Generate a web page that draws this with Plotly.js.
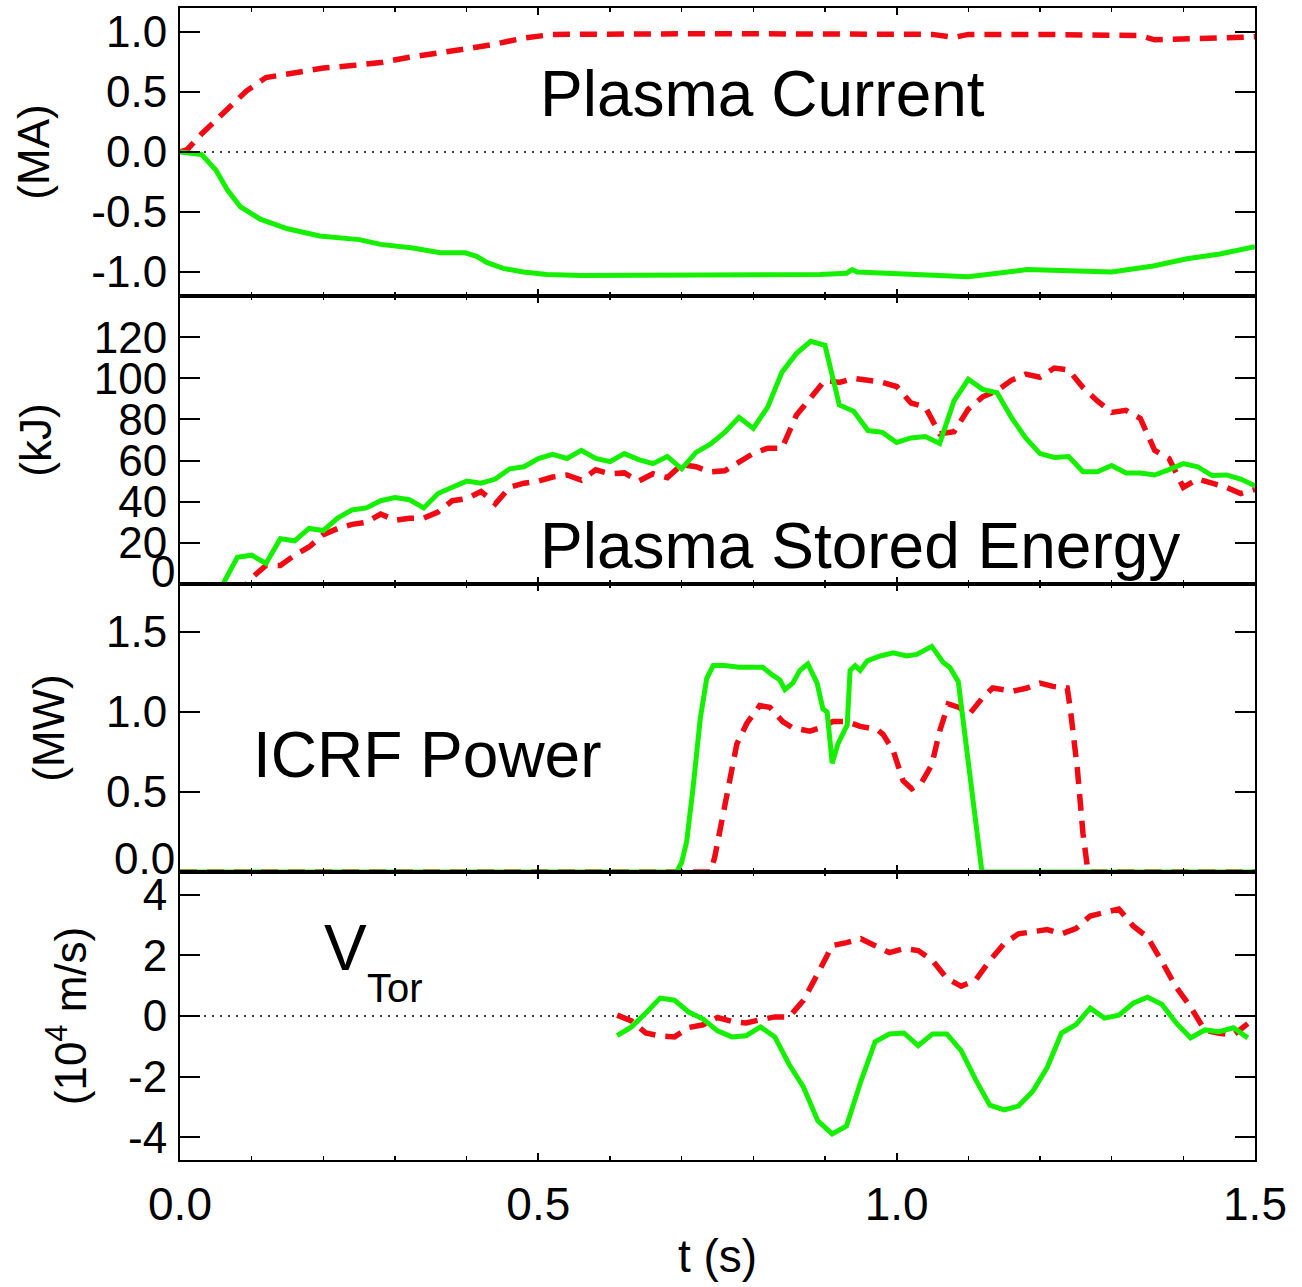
<!DOCTYPE html>
<html>
<head>
<meta charset="utf-8">
<script src="https://cdn.plot.ly/plotly-3.0.1.min.js"></script>
<style>
  html, body { margin: 0; padding: 0; background: #ffffff; }
  #chart { width: 1302px; height: 1287px; }
</style>
</head>
<body>
<div id="chart"></div>
<script>
// ---- Plasma current (MA) ----
const ipRedT = [0,0.01,0.03,0.066,0.093,0.12,0.16,0.20,0.24,0.28,
                0.32,0.36,0.40,0.44,0.48,0.52,0.60,0.70,0.80,0.90,
                1.00,1.05,1.08,1.10,1.20,1.30,1.34,1.36,1.38,1.42,
                1.46,1.50];
const ipRed  = [0,0.02,0.15,0.35,0.51,0.62,0.66,0.70,0.72,0.745,
                0.79,0.82,0.86,0.90,0.95,0.98,0.985,0.985,0.985,0.985,
                0.98,0.98,0.955,0.98,0.98,0.98,0.97,0.935,0.94,0.95,
                0.96,0.96];
const ipGreenT = [0,0.01,0.02,0.03,0.05,0.066,0.084,0.112,0.15,0.195,
                  0.25,0.28,0.325,0.363,0.398,0.414,0.428,0.451,0.479,0.512,
                  0.56,0.70,0.80,0.893,0.93,0.938,0.945,1.033,1.10,1.182,
                  1.30,1.358,1.405,1.451,1.50];
const ipGreen  = [0,-0.01,-0.02,-0.02,-0.15,-0.315,-0.455,-0.56,-0.64,-0.70,
                  -0.73,-0.77,-0.80,-0.84,-0.84,-0.87,-0.92,-0.97,-1.0,-1.02,
                  -1.03,-1.03,-1.03,-1.02,-1.01,-0.98,-1.0,-1.02,-1.04,-0.98,
                  -1.0,-0.95,-0.89,-0.85,-0.79];

// ---- Plasma stored energy (kJ) ----
const wGreenT = [0.06,0.08,0.10,0.12,0.14,0.16,0.18,0.20,0.22,0.24,
                 0.26,0.28,0.30,0.32,0.34,0.36,0.38,0.40,0.42,0.44,
                 0.46,0.48,0.50,0.52,0.54,0.56,0.58,0.60,0.62,0.64,
                 0.66,0.68,0.70,0.72,0.74,0.76,0.78,0.80,0.82,0.84,
                 0.86,0.88,0.90,0.92,0.94,0.96,0.98,1.00,1.02,1.04,
                 1.06,1.08,1.10,1.12,1.14,1.16,1.18,1.20,1.22,1.24,
                 1.26,1.28,1.30,1.32,1.34,1.36,1.38,1.40,1.42,1.44,
                 1.46,1.48,1.50];
const wGreen  = [0,13,14,10,22,21,27,26,32,36,
                 37,40.5,42,41,37,44,47,50,49,51,
                 56,57,61,63,61,65,61,59.5,63.4,60.5,
                 58.5,62,56,64,68,73.7,81,75.6,86,103,
                 112,118,116,87,84,74.6,73.7,68.8,71,71.7,
                 68.3,89,99.5,94.6,93,81,71,63.4,61.5,62,
                 54.6,54.6,57.6,54,54,53,55.6,58.5,57,52.7,
                 53,51,47.8];
const wRedT = [0.08,0.10,0.12,0.14,0.16,0.18,0.20,0.22,0.24,0.26,
               0.28,0.30,0.32,0.34,0.36,0.38,0.40,0.42,0.44,0.46,
               0.48,0.50,0.52,0.54,0.56,0.58,0.60,0.62,0.64,0.66,
               0.68,0.70,0.72,0.74,0.76,0.78,0.80,0.82,0.84,0.86,
               0.88,0.90,0.92,0.94,0.96,0.98,1.00,1.02,1.04,1.06,
               1.08,1.10,1.12,1.14,1.16,1.18,1.20,1.22,1.24,1.26,
               1.28,1.30,1.32,1.34,1.36,1.38,1.40,1.42,1.44,1.46,
               1.48,1.50];
const wRed  = [-6,3,9,9,14,18,24,27,29,30,
               34,31,32,32,35,40.5,41.5,45,39,47,
               49,50,52,53,50.5,55.5,53.6,54,50,53.6,
               51.7,58,57,54.5,55,59,63.5,66,66,82,
               90,99,98,100,99,98,96,88,86,73,
               74,85,91,94,99,102,100.5,105,104,95.5,
               89,83.4,84.4,80.5,65,61,47,51,49,47,
               44,46];

// ---- ICRF power (MW) ----
const pGreenT = [0,0.693,0.700,0.707,0.716,0.726,0.735,0.744,0.76,0.78,
                 0.80,0.813,0.827,0.837,0.844,0.855,0.865,0.876,0.889,0.897,
                 0.903,0.910,0.918,0.931,0.935,0.942,0.949,0.959,0.977,0.995,
                 1.014,1.028,1.049,1.065,1.074,1.086,1.119,1.50];
const pGreen  = [0,0,0.06,0.19,0.53,0.96,1.21,1.29,1.29,1.28,
                 1.28,1.28,1.23,1.2,1.14,1.18,1.26,1.3,1.18,1.02,
                 1.0,0.68,0.8,0.92,1.26,1.29,1.26,1.32,1.35,1.37,
                 1.35,1.36,1.41,1.31,1.28,1.19,0,0];
const pRedT = [0,0.74,0.746,0.76,0.77,0.777,0.791,0.809,0.823,0.841,
               0.855,0.879,0.893,0.911,0.931,0.949,0.973,0.981,0.995,1.009,
               1.021,1.035,1.049,1.06,1.072,1.086,1.102,1.12,1.134,1.162,
               1.182,1.2,1.218,1.238,1.242,1.252,1.26,1.267,1.5];
const pRed  = [0,0,0.09,0.42,0.65,0.8,0.93,1.04,1.03,0.94,
               0.9,0.88,0.9,0.94,0.94,0.91,0.89,0.86,0.76,0.57,
               0.52,0.56,0.67,0.88,1.05,1.03,0.99,1.09,1.15,1.13,
               1.15,1.18,1.16,1.15,1.03,0.65,0.24,0,0];

// ---- Toroidal rotation velocity (10^4 m/s) ----
const vT = [0.61,0.63,0.65,0.67,0.69,0.71,0.73,0.75,0.77,0.79,
            0.81,0.83,0.85,0.87,0.89,0.91,0.93,0.95,0.97,0.99,
            1.01,1.03,1.05,1.07,1.09,1.11,1.13,1.15,1.17,1.19,
            1.21,1.23,1.25,1.27,1.29,1.31,1.33,1.35,1.37,1.39,
            1.41,1.43,1.45,1.47,1.49];
const vGreen = [-0.65,-0.36,0.10,0.59,0.52,0.13,-0.10,-0.49,-0.69,-0.65,
                -0.36,-0.69,-1.6,-2.35,-3.46,-3.89,-3.63,-2.16,-0.85,-0.59,
                -0.56,-0.98,-0.59,-0.59,-1.14,-2.09,-2.94,-3.1,-2.97,-2.48,
                -1.7,-0.56,-0.29,0.26,-0.07,0.03,0.42,0.62,0.39,-0.23,
                -0.72,-0.46,-0.52,-0.39,-0.72];
const vRed = [0.03,-0.16,-0.56,-0.66,-0.69,-0.38,-0.29,-0.05,-0.18,-0.23,
              -0.12,-0.03,-0.03,0.52,1.4,2.32,2.42,2.55,2.32,2.09,
              2.22,2.16,1.83,1.24,0.98,1.18,1.83,2.39,2.71,2.78,
              2.85,2.71,2.88,3.3,3.43,3.53,2.97,2.6,1.8,0.95,
              0.3,-0.47,-0.57,-0.62,-0.25];

// ---- styling ----
const FONT = 'Liberation Sans, Arial, Helvetica, sans-serif';
const GREEN = 'rgb(20,240,0)';
const RED = 'rgb(240,10,20)';
const greenLine = {color: GREEN, width: 5};
const redLine = {color: RED, width: 5.5, dash: '17px,10px'};

function series(x, y, xa, ya, line) {
  return {x: x, y: y, xaxis: xa, yaxis: ya, type: 'scatter', mode: 'lines',
          line: line, hoverinfo: 'skip', showlegend: false};
}

const traces = [
  series(ipRedT, ipRed, 'x', 'y', redLine),
  series(ipGreenT, ipGreen, 'x', 'y', greenLine),
  series(wRedT, wRed, 'x2', 'y2', redLine),
  series(wGreenT, wGreen, 'x2', 'y2', greenLine),
  series(pRedT, pRed, 'x3', 'y3', redLine),
  series(pGreenT, pGreen, 'x3', 'y3', greenLine),
  series(vT, vRed, 'x4', 'y4', redLine),
  series(vT, vGreen, 'x4', 'y4', greenLine)
];

const tickFont = {family: FONT, size: 44, color: 'black'};

function xAxis(anchor, labels) {
  return {
    anchor: anchor, domain: [0, 1], range: [0, 1.5], matches: anchor === 'y4' ? undefined : 'x4',
    tick0: 0, dtick: 0.5, tickformat: '.1f',
    showticklabels: labels, tickfont: {family: FONT, size: 46, color: 'black'},
    ticklabelstandoff: 3,
    ticks: 'inside', ticklen: 7, tickwidth: 2, tickcolor: 'black',
    minor: {ticks: 'inside', dtick: 0.1, tick0: 0, ticklen: 4, tickwidth: 1.5, tickcolor: 'black', showgrid: false},
    showline: true, linecolor: 'black', linewidth: 2, mirror: 'allticks',
    showgrid: false, zeroline: false, fixedrange: true
  };
}

function yAxis(domain, range, tickvals, ticktext, title) {
  return {
    anchor: 'x', domain: domain, range: range,
    tickmode: 'array', tickvals: tickvals, ticktext: ticktext,
    tickfont: tickFont, ticklabelstandoff: 2,
    ticks: 'inside', ticklen: 20, tickwidth: 2, tickcolor: 'black',
    showline: true, linecolor: 'black', linewidth: 2, mirror: 'allticks',
    showgrid: false, zeroline: false, fixedrange: true,
    title: {text: title, font: {family: FONT, size: 44, color: 'black'}, standoff: 28}
  };
}

const layout = {
  width: 1302, height: 1287,
  margin: {l: 180, r: 47, t: 8, b: 127},
  paper_bgcolor: 'white', plot_bgcolor: 'white',
  font: {family: FONT, color: 'black'},
  showlegend: false,
  xaxis: xAxis('y', false),
  xaxis2: xAxis('y2', false),
  xaxis3: xAxis('y3', false),
  xaxis4: Object.assign(xAxis('y4', true), {
    title: {text: 't (s)', font: {family: FONT, size: 46, color: 'black'}, standoff: 11}
  }),
  yaxis: Object.assign(yAxis([0.75, 1], [-1.2, 1.2], [-1, -0.5, 0, 0.5, 1],
                             ['-1.0', '-0.5', '0.0', '0.5', '1.0'], '(MA)'), {anchor: 'x'}),
  yaxis2: Object.assign(yAxis([0.5, 0.75], [0, 140], [20, 40, 60, 80, 100, 120],
                              ['20', '40', '60', '80', '100', '120'], '(kJ)'), {anchor: 'x2'}),
  yaxis3: Object.assign(yAxis([0.25, 0.5], [0, 1.8], [0.5, 1.0, 1.5],
                              ['0.5', '1.0', '1.5'], '(MW)'), {anchor: 'x3'}),
  yaxis4: Object.assign(yAxis([0, 0.25], [-4.75, 4.75], [-4, -2, 0, 2, 4],
                              ['-4', '-2', '0', '2', '4'], '(10<sup>4</sup> m/s)'), {anchor: 'x4'}),
  shapes: [
    {type: 'line', xref: 'x domain', yref: 'y', x0: 0, x1: 1, y0: 0, y1: 0,
     line: {color: 'black', width: 1.5, dash: '2px,6px'}, layer: 'below'},
    {type: 'line', xref: 'x4 domain', yref: 'y4', x0: 0, x1: 1, y0: 0, y1: 0,
     line: {color: 'black', width: 1.5, dash: '2px,6px'}, layer: 'below'}
  ],
  annotations: [
    // zero labels sit raised so they stay inside their panels
    {text: '0', xref: 'paper', x: 0, xanchor: 'right', xshift: -3,
     yref: 'y2', y: 0, yanchor: 'middle', yshift: 13, showarrow: false, font: tickFont},
    {text: '0.0', xref: 'paper', x: 0, xanchor: 'right', xshift: -3,
     yref: 'y3', y: 0, yanchor: 'middle', yshift: 14, showarrow: false, font: tickFont},
    // panel names
    {text: 'Plasma Current', xref: 'paper', x: 0.333, xanchor: 'left',
     yref: 'y', y: 0.48, yanchor: 'middle', showarrow: false,
     font: {family: FONT, size: 64, color: 'black'}},
    {text: 'Plasma Stored Energy', xref: 'paper', x: 0.333, xanchor: 'left',
     yref: 'y2', y: 18.7, yanchor: 'middle', showarrow: false,
     font: {family: FONT, size: 64, color: 'black'}},
    {text: 'ICRF Power', xref: 'paper', x: 0.066, xanchor: 'left',
     yref: 'y3', y: 0.73, yanchor: 'middle', showarrow: false,
     font: {family: FONT, size: 64, color: 'black'}},
    {text: 'V', xref: 'paper', x: 0.132, xanchor: 'left',
     yref: 'y4', y: 2.24, yanchor: 'middle', showarrow: false,
     font: {family: FONT, size: 64, color: 'black'}},
    {text: 'Tor', xref: 'paper', x: 0.172, xanchor: 'left',
     yref: 'y4', y: 0.92, yanchor: 'middle', showarrow: false,
     font: {family: FONT, size: 40, color: 'black'}}
  ]
};

Plotly.newPlot('chart', traces, layout, {displayModeBar: false, staticPlot: true});
</script>
</body>
</html>
